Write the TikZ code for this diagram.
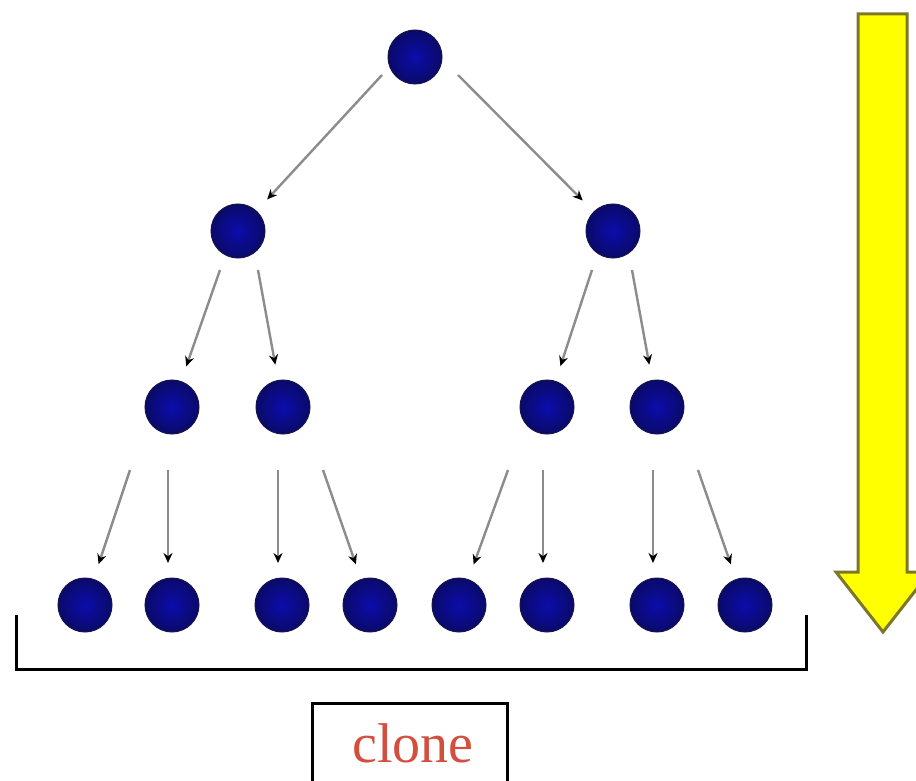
\documentclass[tikz,border=0pt]{standalone}
\usepackage{fontspec}
\setmainfont{Liberation Serif}
\usetikzlibrary{arrows.meta}

\definecolor{navyin}{RGB}{12,12,172}
\definecolor{navyout}{RGB}{10,10,105}
\definecolor{navyrim}{RGB}{20,20,75}
\definecolor{linkgray}{RGB}{140,140,140}
\definecolor{arrowyellow}{RGB}{255,255,0}
\definecolor{arrowrim}{RGB}{125,120,40}
\definecolor{labelred}{RGB}{212,78,62}

\tikzset{
  ball/.style={circle, minimum size=54pt, inner sep=0pt, outer sep=0pt,
    shading=radial, inner color=navyin, outer color=navyout,
    draw=navyrim, line width=1pt},
  link/.style={draw=linkgray, line width=2.4pt,
    -{Stealth[length=10pt,width=9pt,black]}, shorten >=16pt},
  % straight drop that ends just above a leaf centre
  drop/.style={link, shorten >=42pt},
  frame/.style={draw=black, line width=3pt},
}

\begin{document}
\begin{tikzpicture}[x=1pt, y=-1pt]
\useasboundingbox[fill=white] (0,0) rectangle (916,781);

% tree nodes
\node[ball] (r)  at (415,57) {};
\node[ball] (a)  at (238,231) {};
\node[ball] (b)  at (613,231) {};
\node[ball] (a1) at (172,407) {};
\node[ball] (a2) at (283,407) {};
\node[ball] (b1) at (547,407) {};
\node[ball] (b2) at (657,407) {};
\node[ball] (l1) at (85,605) {};
\node[ball] (l2) at (172,605) {};
\node[ball] (l3) at (282,605) {};
\node[ball] (l4) at (370,605) {};
\node[ball] (l5) at (459,605) {};
\node[ball] (l6) at (547,605) {};
\node[ball] (l7) at (657,605) {};
\node[ball] (l8) at (745,605) {};

% links: each starts a little away from its parent
\draw[link] ([shift={(-33,18)}]r.center) -- (a);
\draw[link] ([shift={(43,18)}]r.center) -- (b);

\draw[link] ([shift={(-18,39)}]a.center) -- (a1);
\draw[link] ([shift={(20,39)}]a.center) -- (a2);
\draw[link] ([shift={(-21,39)}]b.center) -- (b1);
\draw[link] ([shift={(19,39)}]b.center) -- (b2);

\draw[link] ([shift={(-42,63)}]a1.center) -- (l1);
\draw[drop] ([shift={(-4,63)}]a1.center) -- ([xshift=-4pt]l2.center);
\draw[drop] ([shift={(-5,63)}]a2.center) -- ([xshift=-4pt]l3.center);
\draw[link] ([shift={(40,63)}]a2.center) -- (l4);
\draw[link] ([shift={(-39,63)}]b1.center) -- (l5);
\draw[drop] ([shift={(-4,63)}]b1.center) -- ([xshift=-4pt]l6.center);
\draw[drop] ([shift={(-4,63)}]b2.center) -- ([xshift=-4pt]l7.center);
\draw[link] ([shift={(41,63)}]b2.center) -- (l8);

% bracket under the leaves
\draw[frame] (16,615) -- (16,669) -- (806,669) -- (806,615);

% label box
\draw[frame] (312,703) rectangle (507,800);
\node[anchor=base, inner sep=0pt, text=labelred, font=\fontsize{56}{60}\selectfont]
  (clone) at (413,762) {clone};

% downward arrow
\draw[fill=arrowyellow, draw=arrowrim, line width=3pt, line join=miter]
  (858,14) -- (907,14) -- (907,572) -- (930,572) -- (883,632)
  -- (836,572) -- (858,572) -- cycle;
\end{tikzpicture}
\end{document}
